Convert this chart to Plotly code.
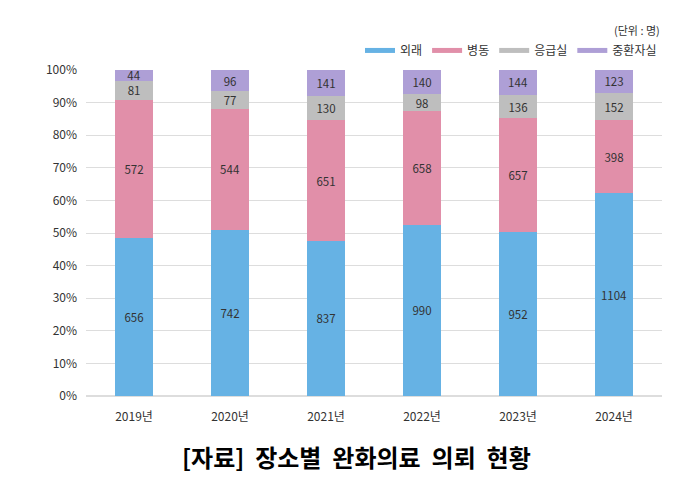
import plotly.graph_objects as go

years = ["2019년", "2020년", "2021년", "2022년", "2023년", "2024년"]
series_names = ["외래", "병동", "응급실", "중환자실"]
outpatient = [656, 742, 837, 990, 952, 1104]
ward = [572, 544, 651, 658, 657, 398]
emergency = [81, 77, 130, 98, 136, 152]
icu = [44, 96, 141, 140, 144, 123]
colors = ["#66B2E4", "#E18FA9", "#BEBEBE", "#AE9FD6"]

FONT = "Noto Sans CJK KR"
fig = go.Figure()
for name, vals, col in zip(series_names, [outpatient, ward, emergency, icu], colors):
    fig.add_trace(go.Bar(
        x=years, y=vals, name=name, marker=dict(color=col, line=dict(width=0)),
        text=[str(v) for v in vals], textposition="inside", insidetextanchor="middle",
        textangle=0, constraintext="none",
        textfont=dict(color="#333333", size=11.5, family=FONT),
        showlegend=False, hoverinfo="skip",
    ))
for name, col in zip(series_names, colors):
    fig.add_trace(go.Scatter(
        x=[None], y=[None], mode="lines", name=name,
        line=dict(color=col, width=5), showlegend=True,
    ))

fig.update_layout(
    width=700, height=490,
    barmode="stack", barnorm="percent", bargap=0.6,
    margin=dict(l=86, r=38, t=70, b=94, autoexpand=False),
    paper_bgcolor="white", plot_bgcolor="white",
    font=dict(family=FONT, color="#333333", size=11),
    legend=dict(orientation="h", x=1.0, xanchor="right", y=1.06, yanchor="middle",
                font=dict(size=12, color="#333333"), itemwidth=30, traceorder="normal"),
    xaxis=dict(showgrid=False, showline=False, ticks="", automargin=False,
               tickfont=dict(size=12, color="#333333"), ticklabelstandoff=12),
    yaxis=dict(range=[0, 100], dtick=10, ticksuffix="%", showgrid=True, automargin=False,
               gridcolor="#DDDDDD", gridwidth=1, zeroline=True, zerolinecolor="#DDDDDD",
               tickfont=dict(size=12, color="#333333"), ticklabelstandoff=8),
    annotations=[
        dict(text="(단위 : 명)", xref="paper", yref="paper", x=1.0, y=1.123,
             xanchor="right", yanchor="middle", showarrow=False,
             font=dict(size=11, color="#333333")),
        dict(text="<b>[자료]&nbsp; 장소별&nbsp; 완화의료&nbsp; 의뢰&nbsp; 현황</b>",
             xref="paper", yref="paper",
             x=0.47, y=-0.185, xanchor="center", yanchor="middle", showarrow=False,
             font=dict(size=24, color="#000000")),
    ],
)
fig.write_html("out.html", config={"displayModeBar": False},
               post_script="document.body.style.margin='0';")
